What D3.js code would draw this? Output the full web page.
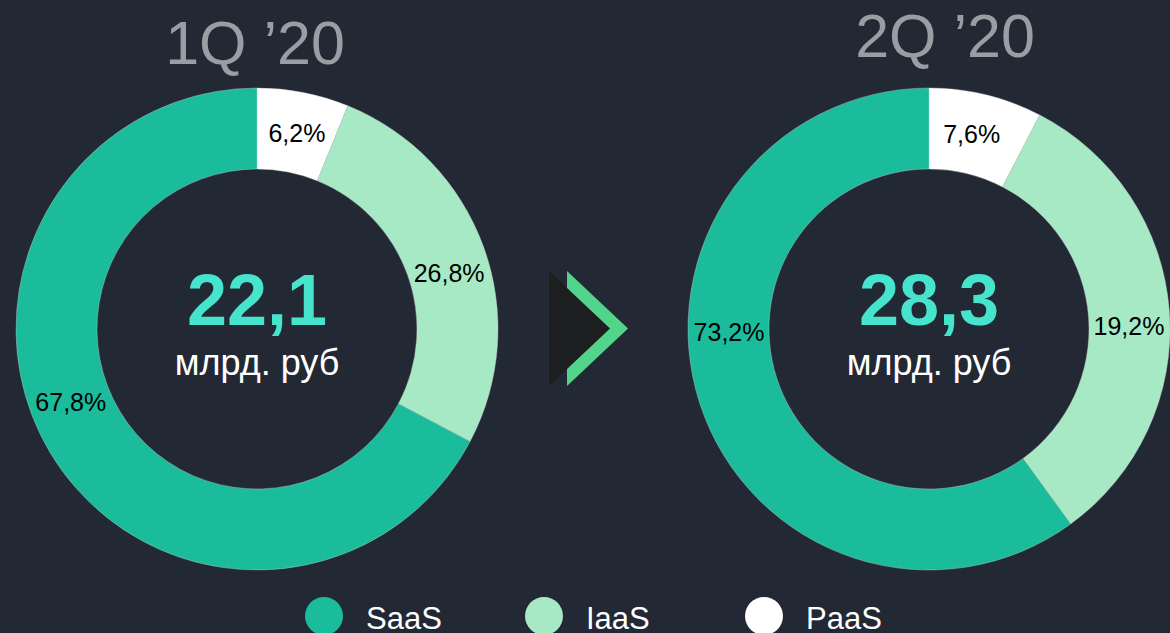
<!DOCTYPE html>
<html>
<head>
<meta charset="utf-8">
<script src="https://cdn.jsdelivr.net/npm/d3@7"></script>
<style>
  html, body { margin: 0; padding: 0; background: #222934; }
  svg { display: block; }
  text { font-family: "Liberation Sans", Arial, Helvetica, sans-serif; }
</style>
</head>
<body>
<svg id="chart"></svg>
<script>
// data
let categories = ['SaaS', 'IaaS', 'PaaS']
let q1Values = [67.8, 26.8, 6.2]
let q2Values = [73.2, 19.2, 7.6]
// the 2Q ring in the picture is not drawn to its labels: these are the slice sizes as drawn
let q1Drawn = [67.8, 26.8, 6.2]
let q2Drawn = [60.0, 32.4, 7.6]
let periods = ['1Q \u201920', '2Q \u201920']
let totals = ['22,1', '28,3']
let unitLabel = 'млрд. руб'

let colors = ['#1abc9c', '#a8e9c5', '#ffffff']

let width = 1170
let height = 633
let outerR = 241
let innerR = 160
let labelR = 200

// where each label sits along its slice (0 = start, 1 = end), per chart
let charts = [
    { cx: 257, cy: 329, values: q1Values, drawn: q1Drawn, title: periods[0], total: totals[0],
      titleX: 255, titleY: 64, labelAt: [0.54, 0.54, 0.52] },
    { cx: 929, cy: 329, values: q2Values, drawn: q2Drawn, title: periods[1], total: totals[1],
      titleX: 945, titleY: 57, labelAt: [0.58, 0.53, 0.45] }
]

let svg = d3.select('#chart')
    .attr('width', width)
    .attr('height', height)

svg.append('rect')
    .attr('width', width)
    .attr('height', height)
    .attr('fill', '#222934')

let color = d3.scaleOrdinal().domain(categories).range(colors)

// clockwise from top: PaaS, IaaS, SaaS
let drawOrder = ['PaaS', 'IaaS', 'SaaS']

let pie = d3.pie()
    .sort(null)
    .value(d => d.drawn)

let arc = d3.arc()
    .innerRadius(innerR)
    .outerRadius(outerR)

let fmt = v => v.toFixed(1).replace('.', ',') + '%'

let labelAngle = (c, d) => {
    let f = c.labelAt[categories.indexOf(d.data.name)]
    return d.startAngle + (d.endAngle - d.startAngle) * f
}

charts.forEach(c => {
    let rows = drawOrder.map(name => {
        let k = categories.indexOf(name)
        return { name: name, value: c.values[k], drawn: c.drawn[k] }
    })
    let arcs = pie(rows)

    let g = svg.append('g')
        .attr('transform', 'translate(' + c.cx + ',' + c.cy + ')')

    g.selectAll('path')
        .data(arcs)
        .enter()
        .append('path')
        .attr('d', arc)
        .attr('fill', d => color(d.data.name))
        .attr('stroke', '#c8cccc')
        .attr('stroke-width', 0.4)

    g.selectAll('text.pct')
        .data(arcs)
        .enter()
        .append('text')
        .attr('class', 'pct')
        .attr('x', d => labelR * Math.sin(labelAngle(c, d)))
        .attr('y', d => -labelR * Math.cos(labelAngle(c, d)))
        .attr('text-anchor', 'middle')
        .attr('dominant-baseline', 'central')
        .attr('font-size', 25)
        .attr('fill', '#000')
        .text(d => fmt(d.data.value))

    g.append('text')
        .attr('x', 0)
        .attr('y', -4)
        .attr('text-anchor', 'middle')
        .attr('font-size', 72)
        .attr('font-weight', 'bold')
        .attr('fill', '#46e3cd')
        .text(c.total)

    g.append('text')
        .attr('x', 0)
        .attr('y', 46)
        .attr('text-anchor', 'middle')
        .attr('font-size', 36)
        .attr('fill', '#ffffff')
        .text(unitLabel)

    svg.append('text')
        .attr('x', c.titleX)
        .attr('y', c.titleY)
        .attr('text-anchor', 'middle')
        .attr('font-size', 61)
        .attr('fill', '#9a9ea4')
        .text(c.title)
})

// arrow between the two donuts
let ax = 549, ay = 271, ah = 115, aw = 61, gap = 18
svg.append('path')
    .attr('d', 'M' + (ax + gap) + ',' + ay + 'L' + (ax + gap + aw) + ',' + (ay + ah / 2) + 'L' + (ax + gap) + ',' + (ay + ah) + 'Z')
    .attr('fill', '#52d48a')
svg.append('path')
    .attr('d', 'M' + ax + ',' + ay + 'L' + (ax + aw) + ',' + (ay + ah / 2) + 'L' + ax + ',' + (ay + ah) + 'Z')
    .attr('fill', '#1c1e1f')

// legend
let legend = svg.selectAll('g.legend')
    .data(categories)
    .enter()
    .append('g')
    .attr('class', 'legend')
    .attr('transform', (d, i) => 'translate(' + (324 + i * 220) + ',616)')

legend.append('circle')
    .attr('r', 19)
    .attr('fill', d => color(d))

legend.append('text')
    .attr('x', 42)
    .attr('y', 13)
    .attr('font-size', 31)
    .attr('fill', '#ffffff')
    .text(d => d)
</script>
</body>
</html>
